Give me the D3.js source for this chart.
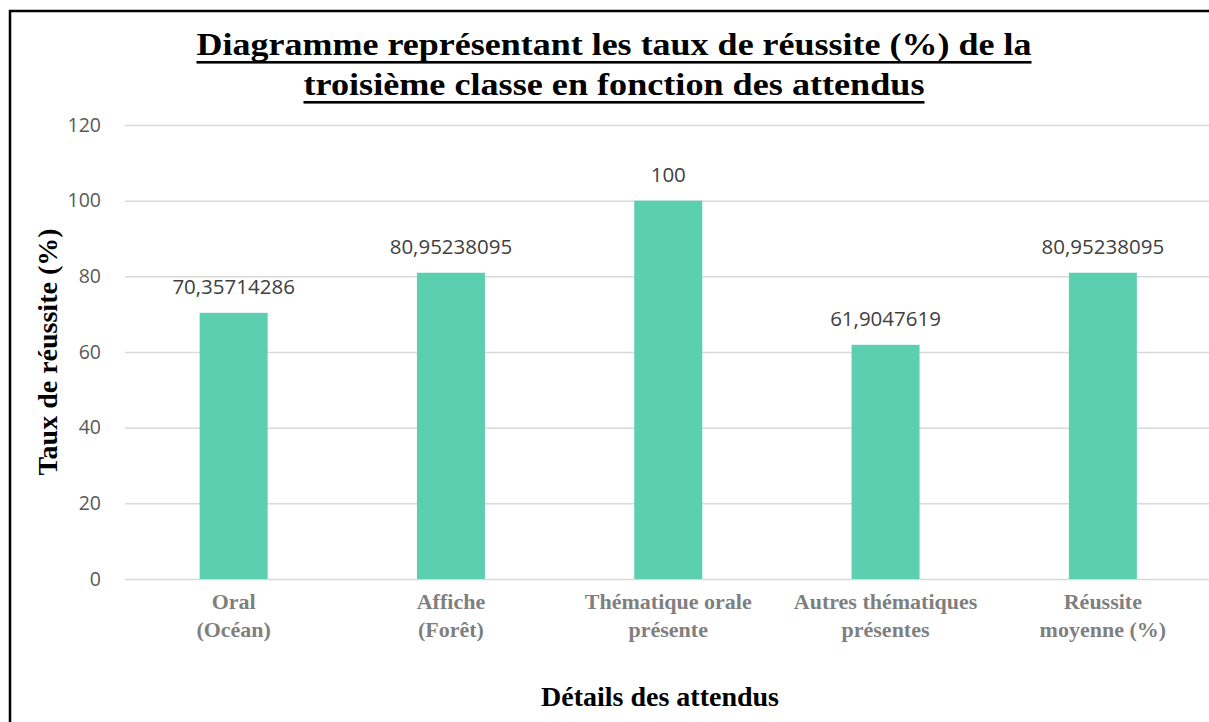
<!DOCTYPE html>
<html>
<head>
<meta charset="utf-8">
<script src="https://cdn.jsdelivr.net/npm/d3@7"></script>
<style>
  body { margin: 0; background: #fff; }
  svg { display: block; }
</style>
</head>
<body>
<div id="chart"></div>
<script>
// categories (two lines each) and values
var categories = ["Oral", "Affiche", "Thématique orale", "Autres thématiques", "Réussite"];
var categoryLines = [
  ["Oral", "(Océan)"],
  ["Affiche", "(Forêt)"],
  ["Thématique orale", "présente"],
  ["Autres thématiques", "présentes"],
  ["Réussite", "moyenne (%)"]
];
var values = [70.35714286, 80.95238095, 100, 61.9047619, 80.95238095];
var valueLabels = ["70,35714286", "80,95238095", "100", "61,9047619", "80,95238095"];
var yTicks = [0, 20, 40, 60, 80, 100, 120];
var titleLines = ["Diagramme représentant les taux de réussite (%) de la",
                  "troisième classe en fonction des attendus"];

var width = 1209, height = 722;
var plot = { left: 125, right: 1211.5, top: 125, bottom: 579 };

var svg = d3.select("#chart").append("svg")
    .attr("width", width)
    .attr("height", height);

// cadre
svg.append("rect")
    .attr("x", 10).attr("y", 11)
    .attr("width", 1260).attr("height", 760)
    .attr("fill", "none")
    .attr("stroke", "#000")
    .attr("stroke-width", 2.5);

var x = d3.scaleBand()
    .domain(categories)
    .range([plot.left, plot.right])
    .paddingInner(0.687)
    .paddingOuter(0.3435);

var y = d3.scaleLinear()
    .domain([0, 120])
    .range([plot.bottom, plot.top]);

// grille + graduations
var yAxis = svg.append("g")
    .attr("transform", `translate(${plot.left},0)`)
    .call(d3.axisLeft(y).tickValues(yTicks).tickSize(-(plot.right - plot.left)).tickPadding(24));
yAxis.select(".domain").remove();
yAxis.selectAll(".tick line")
    .attr("stroke", "#d9d9d9")
    .attr("stroke-width", 1.5);
yAxis.selectAll(".tick text")
    .attr("fill", "#595959")
    .style("font-family", "'Open Sans', sans-serif")
    .style("font-size", "19.5px");

// barres
svg.append("g").selectAll("rect")
    .data(values)
    .enter().append("rect")
    .attr("x", function(d, i) { return x(categories[i]); })
    .attr("y", function(d) { return y(d); })
    .attr("width", x.bandwidth())
    .attr("height", function(d) { return y(0) - y(d); })
    .attr("fill", "#5ccfb1");

// étiquettes de données
svg.append("g").selectAll("text")
    .data(values)
    .enter().append("text")
    .attr("x", function(d, i) { return x(categories[i]) + x.bandwidth() / 2; })
    .attr("y", function(d) { return y(d) - 19; })
    .attr("text-anchor", "middle")
    .attr("fill", "#404040")
    .style("font-family", "'Open Sans', sans-serif")
    .style("font-size", "20.5px")
    .text(function(d, i) { return valueLabels[i]; });

// libellés des catégories
var catG = svg.append("g").selectAll("text")
    .data(categoryLines)
    .enter().append("text")
    .attr("text-anchor", "middle")
    .attr("fill", "#7f7f7f")
    .style("font-family", "'Liberation Serif', 'Times New Roman', serif")
    .style("font-weight", "bold")
    .style("font-size", "22px");
catG.selectAll("tspan")
    .data(function(d, i) { return d.map(function(t) { return { t: t, i: i }; }); })
    .enter().append("tspan")
    .attr("x", function(d) { return x(categories[d.i]) + x.bandwidth() / 2; })
    .attr("y", function(d, j) { return 609 + j * 28; })
    .text(function(d) { return d.t; });

// titre des axes
svg.append("text")
    .attr("transform", "translate(57,352) rotate(-90)")
    .attr("text-anchor", "middle")
    .style("font-family", "'Liberation Serif', 'Times New Roman', serif")
    .style("font-weight", "bold")
    .style("font-size", "28px")
    .text("Taux de réussite (%)");

svg.append("text")
    .attr("x", 660).attr("y", 706)
    .attr("text-anchor", "middle")
    .style("font-family", "'Liberation Serif', 'Times New Roman', serif")
    .style("font-weight", "bold")
    .style("font-size", "28px")
    .text("Détails des attendus");

// titre souligné
var titleW = [835, 621];
var titleG = svg.append("g");
titleLines.forEach(function(line, i) {
    var by = 55 + i * 40;
    titleG.append("text")
        .attr("x", 614).attr("y", by)
        .attr("text-anchor", "middle")
        .attr("textLength", titleW[i])
        .attr("lengthAdjust", "spacingAndGlyphs")
        .style("font-family", "'Liberation Serif', 'Times New Roman', serif")
        .style("font-weight", "bold")
        .style("font-size", "32px")
        .text(line);
    titleG.append("rect")
        .attr("x", 614 - titleW[i] / 2).attr("y", by + 6)
        .attr("width", titleW[i]).attr("height", 2.6)
        .attr("fill", "#000");
});
</script>
</body>
</html>
